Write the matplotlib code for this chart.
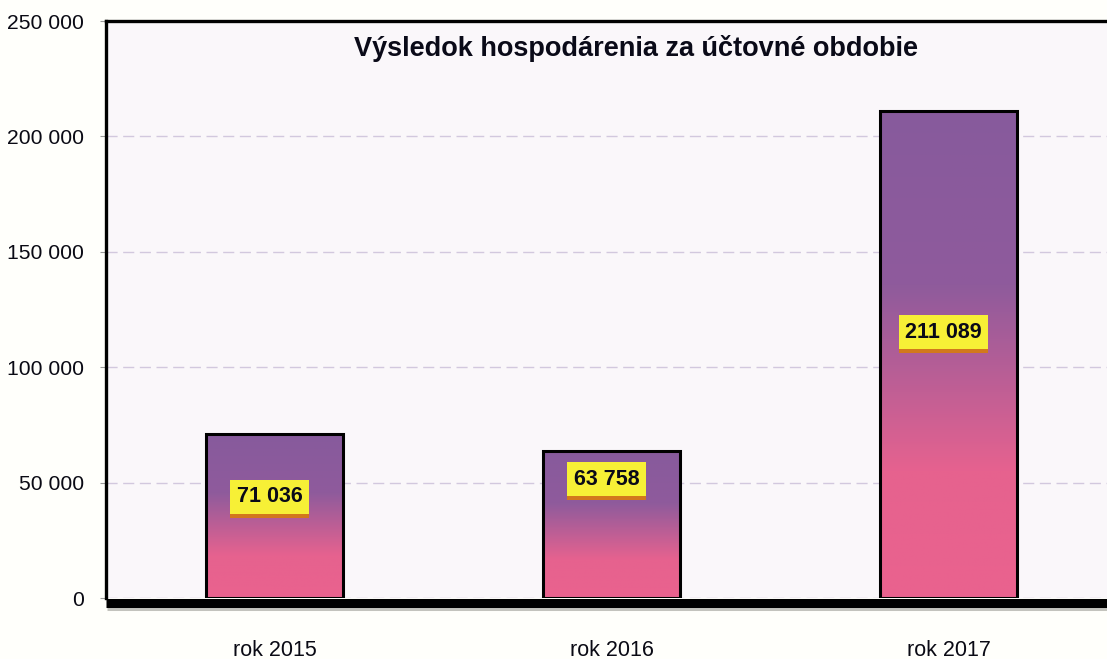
import numpy as np
import matplotlib.pyplot as plt
from matplotlib.colors import LinearSegmentedColormap
import matplotlib.patheffects as pe

# data
categories = ["rok 2015", "rok 2016", "rok 2017"]
values = [71036, 63758, 211089]
label_labels = ["71 036", "63 758", "211 089"]
label_y = [43800, 51500, 115200]
yticks = [0, 50000, 100000, 150000, 200000, 250000]
ytick_labels = ["0", "50 000", "100 000", "150 000", "200 000", "250 000"]

plt.rcParams['font.family'] = ['Liberation Sans', 'DejaVu Sans']

fig = plt.figure(figsize=(11.07, 6.59), dpi=100, facecolor="#fffffb")
ax = fig.add_axes([106 / 1107, 1 - 598 / 659, 1011 / 1107, 577 / 659])
ax.set_facecolor("#faf7fa")

x = np.arange(len(categories))
bars = ax.bar(x, values, width=0.404, color="none", edgecolor="black", linewidth=2.2, zorder=3)

# vertical gradient inside each bar (pink bottom -> purple top)
cmap = LinearSegmentedColormap.from_list(
    "pp", [(0, "#ea628e"), (0.26, "#e6628f"), (0.64, "#8f5b9c"), (1, "#875a9c")])
grad = np.linspace(0, 1, 256).reshape(-1, 1)
for b in bars:
    x0, y0, w, h = b.get_x(), b.get_y(), b.get_width(), b.get_height()
    im = ax.imshow(grad, cmap=cmap, origin="lower", aspect="auto",
                   extent=(x0, x0 + w, y0, y0 + h), zorder=2)
    im.set_clip_path(b)

ax.set_xlim(-0.5, 2.5)
ax.set_ylim(0, 250000)
ax.set_yticks(yticks)
ax.set_yticklabels(ytick_labels)
ax.set_xticks(x)
ax.set_xticklabels(categories)
ax.tick_params(axis="y", length=4, color="#999999", pad=12, labelsize=15.2, labelcolor="#0a0a14")
ax.tick_params(axis="x", length=0, pad=30, labelsize=15.5, labelcolor="#0a0a14")
ax.yaxis.grid(True, color="#d2c8de", linestyle=(0, (8, 4)), linewidth=1.0, zorder=1)
ax.set_axisbelow(True)

for side in ["left", "top"]:
    ax.spines[side].set_linewidth(2.4)
ax.spines["right"].set_visible(False)
ax.spines["bottom"].set_visible(False)

# thick base line with shadow
ax.plot([0, 1], [-2000, -2000], color="black", linewidth=6.5, zorder=4, clip_on=False,
        solid_capstyle="butt", transform=ax.get_yaxis_transform(),
        path_effects=[pe.SimpleLineShadow(offset=(1, -2.5), shadow_color="#888880", alpha=0.5),
                      pe.Normal()])

# value labels in yellow boxes
for xi, lab, ly in zip(x, label_labels, label_y):
    t = ax.text(xi - 0.015, ly, lab, ha="center", va="center", fontsize=15.5, fontweight="bold",
                color="#0a0a18", zorder=6,
                bbox=dict(boxstyle="square,pad=0.3", facecolor="#f7f036", edgecolor="none"))
    t.get_bbox_patch().set_path_effects([
        pe.SimplePatchShadow(offset=(0, -3), shadow_rgbFace="#d2781c", alpha=1.0),
        pe.Normal()])

ax.text(0.524, 0.952, "Výsledok hospodárenia za účtovné obdobie", transform=ax.transAxes,
        ha="center", va="center", fontsize=19.5, fontweight="bold", color="#0a0a18", zorder=6)

fig.savefig("out.png", dpi=100, facecolor=fig.get_facecolor())
